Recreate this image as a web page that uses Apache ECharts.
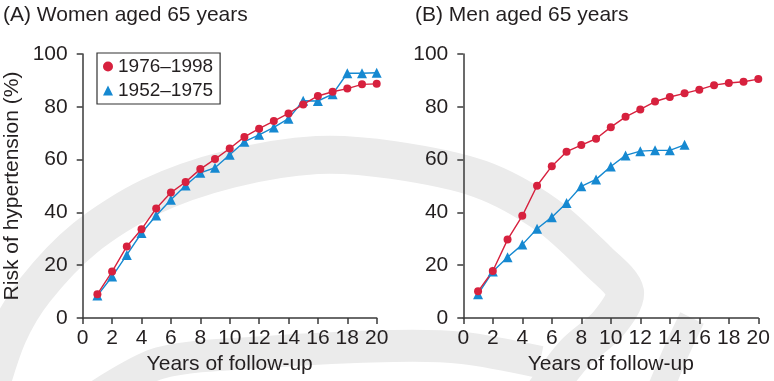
<!DOCTYPE html>
<html>
<head>
<meta charset="utf-8">
<script src="https://cdn.jsdelivr.net/npm/echarts@6/dist/echarts.min.js"></script>
<style>
html,body{margin:0;padding:0;background:#fff;}
#chart{width:774px;height:381px;}
</style>
</head>
<body>
<div id="chart"></div>
<script>
// ---- Data ----
const years = [1,2,3,4,5,6,7,8,9,10,11,12,13,14,15,16,17,18,19,20];
const yearsMen1952 = [1,2,3,4,5,6,7,8,9,10,11,12,13,14,15];
const women1976 = [9.0,17.6,27.1,33.6,41.5,47.5,51.5,56.4,60.2,64.2,68.6,71.7,74.6,77.5,80.9,84.1,85.7,86.9,88.5,88.7];
const women1952 = [8.5,15.7,23.9,32.2,38.8,44.8,50.2,55.0,56.9,61.8,66.8,69.4,72.2,75.5,82.3,82.2,84.8,92.7,92.7,92.9];
const men1976 = [10.1,17.8,29.7,38.7,50.1,57.5,63.0,65.5,67.9,72.3,76.2,79.0,82.0,83.7,85.1,86.5,88.2,89.0,89.5,90.5];
const men1952 = [9.0,17.6,23.0,27.8,33.8,38.2,43.6,49.9,52.5,57.4,61.6,63.2,63.5,63.5,65.6];
const seriesNames = ['1976\u20131998','1952\u20131975'];
const panelTitles = ['(A) Women aged 65 years','(B) Men aged 65 years'];
const xTicks = [0,2,4,6,8,10,12,14,16,18,20];
const yTicks = [0,20,40,60,80,100];

const RED = '#d7213e';
const BLUE = '#1689d1';
const TXT = '#231f20';
const AX = '#3a3a3a';
const FONT = 'Liberation Sans, Arial, Helvetica, sans-serif';

function pairs(xs, ys){ return ys.map((v,i)=>[xs[i], v]); }

function xAxis(gi){
  return {
    type:'value', gridIndex:gi, min:xTicks[0], max:xTicks[xTicks.length-1], interval:2,
    name:'Years of follow-up', nameLocation:'middle', nameGap:34,
    nameTextStyle:{color:TXT, fontSize:21, fontFamily:FONT},
    axisLine:{lineStyle:{color:AX, width:1.5}},
    axisTick:{show:true, length:6, lineStyle:{color:AX, width:1.5}},
    axisLabel:{color:TXT, fontSize:21, fontFamily:FONT, margin:10},
    splitLine:{show:false}
  };
}
function yAxis(gi, withName){
  const a = {
    type:'value', gridIndex:gi, min:yTicks[0], max:yTicks[yTicks.length-1], interval:20,
    axisLine:{show:true, lineStyle:{color:AX, width:1.5}},
    axisTick:{show:true, length:6, lineStyle:{color:AX, width:1.5}},
    axisLabel:{color:TXT, fontSize:21, fontFamily:FONT, margin:15},
    splitLine:{show:false}
  };
  if(withName){
    a.name = 'Risk of hypertension (%)';
    a.nameLocation = 'middle';
    a.nameGap = 60;
    a.nameTextStyle = {color:TXT, fontSize:21, fontFamily:FONT};
  }
  return a;
}
function lineSeries(name, gi, data, symbol, size, color){
  return {
    type:'line', name:name, xAxisIndex:gi, yAxisIndex:gi, data:data,
    symbol:symbol, symbolSize:size, showAllSymbol:true,
    lineStyle:{color:color, width:1.4},
    itemStyle:{color:color},
    emphasis:{disabled:true}, animation:false
  };
}

// watermark bands (decorative background)
const wmColor = '#ebebeb';
function band(points, w){
  return {type:'polyline', z:-10, silent:true,
    shape:{points:points, smooth:0.3},
    style:{stroke:wmColor, lineWidth:w, fill:null, lineCap:'butt'}};
}

const chart = echarts.init(document.getElementById('chart'), null, {renderer:'canvas'});
chart.setOption({
  backgroundColor:'#fff',
  animation:false,
  textStyle:{fontFamily:FONT},
  graphic:[
    band([[-12,395],[8,335],[35,290],[85,238],[150,197],[230,169],[317,155],[393,160],[480,179],[547,215],[597,260],[625,292],[608,324],[575,353],[545,392]], 38),
    band([[95,398],[160,363],[267,352],[393,346],[463,348],[540,362]], 32),
    band([[692,318],[676,352],[658,395]], 26)
  ],
  title:[
    {text:panelTitles[0], left:3, top:5, padding:0, textStyle:{color:TXT, fontSize:21, fontWeight:'normal', fontFamily:FONT}},
    {text:panelTitles[1], left:415, top:5, padding:0, textStyle:{color:TXT, fontSize:21, fontWeight:'normal', fontFamily:FONT}}
  ],
  legend:{
    show:true, orient:'vertical', left:97, top:53,
    data:[{name:seriesNames[0], icon:'circle'},{name:seriesNames[1], icon:'triangle'}],
    itemWidth:10, itemHeight:10, itemGap:5, itemTextGap:5,
    padding:[4,7,4,6],
    borderColor:'#333', borderWidth:1.2, backgroundColor:'#fff',
    textStyle:{color:TXT, fontSize:19, fontFamily:FONT},
    selectedMode:false
  },
  grid:[
    {left:82.7, top:54, width:294, height:264},
    {left:463.3, top:54, width:295, height:264}
  ],
  xAxis:[xAxis(0), xAxis(1)],
  yAxis:[yAxis(0,true), yAxis(1,false)],
  series:[
    lineSeries(seriesNames[1], 0, pairs(years, women1952), 'triangle', 10, BLUE),
    lineSeries(seriesNames[0], 0, pairs(years, women1976), 'circle', 8, RED),
    lineSeries(seriesNames[1], 1, pairs(yearsMen1952, men1952), 'triangle', 10, BLUE),
    lineSeries(seriesNames[0], 1, pairs(years, men1976), 'circle', 8, RED)
  ]
});
</script>
</body>
</html>
